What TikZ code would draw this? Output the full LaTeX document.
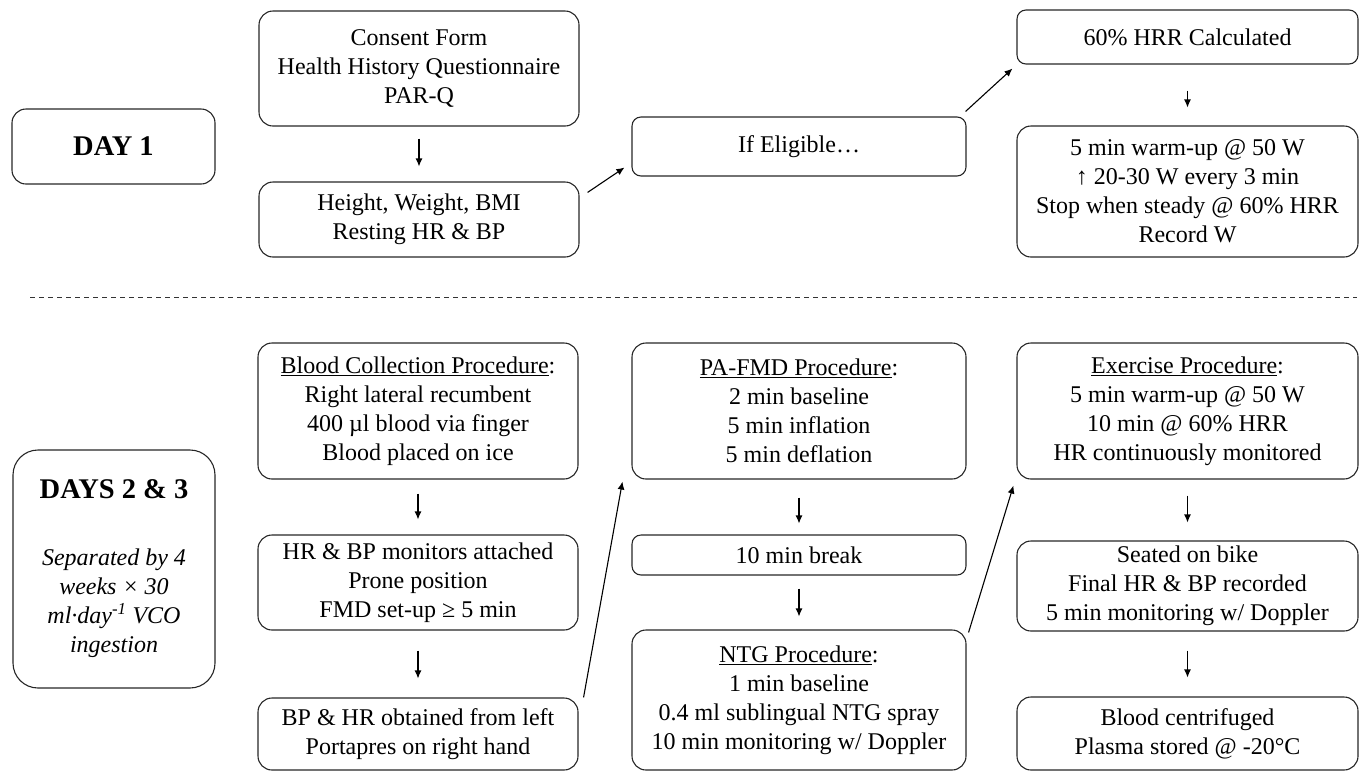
\documentclass[tikz,border=0pt]{standalone}
\usepackage{fontspec}
\setmainfont{Liberation Serif}
\usetikzlibrary{arrows.meta,calc}
\begin{document}
\begin{tikzpicture}[x=1pt,y=-1pt,
  box/.style={draw=black!85, line width=1.1pt, rounded corners=14pt, align=center,
    inner sep=0pt, font=\fontsize{24}{29}\selectfont},
  smallbox/.style={box, rounded corners=9pt},
  headbox/.style={box, font=\fontsize{28.5}{29}\selectfont\bfseries},
  arr/.style={line width=1.1pt, draw=black, -{Latex[length=8pt,width=7pt]}},
  sep/.style={line width=1pt, draw=black!80, dash pattern=on 5pt off 4pt},
]
\useasboundingbox (0,0) rectangle (1364,772);

% ---------- DAY 1 ----------
\node[headbox, minimum width=203pt, minimum height=75pt] (day1) at (113.5,146.5) {DAY 1};
\node[box, minimum width=320pt, minimum height=115pt] (consent) at (419,68.5)
  {Consent Form\\Health History Questionnaire\\PAR-Q};
\node[box, minimum width=320pt, minimum height=75pt] (height) at (419,219.5)
  {Height, Weight, BMI\\Resting HR \& BP};
\node[smallbox, minimum width=334pt, minimum height=59pt] (elig) at (799,146.5)
  {If Eligible…};
\node[smallbox, minimum width=341pt, minimum height=54pt] (hrr) at (1187.5,37)
  {60\% HRR Calculated};
\node[box, minimum width=341pt, minimum height=131pt] (warm) at (1187.5,191.5)
  {5 min warm-up @ 50 W\\↑ 20-30 W every 3 min\\Stop when steady @ 60\% HRR\\Record W};

\draw[arr, shorten <=12pt, shorten >=15pt] (consent) -- (height);
\draw[arr, shorten <=26pt, shorten >=18pt] (hrr) -- (warm);
\draw[arr] ($(height.north east)+(8,11)$) -- ($(elig.south west)+(-7,-9)$);
\draw[arr] ($(elig.north east)+(-1,-5)$) -- ($(hrr.south west)+(-4,4)$);

% ---------- separator ----------
\draw[sep] (30,297) -- (1357,297);

% ---------- DAYS 2 & 3 ----------
\node[box, rounded corners=25pt, minimum width=202pt, minimum height=238pt] (days) at (114,569)
  {{\fontsize{28.5}{29}\selectfont\bfseries DAYS 2 \& 3}\\[38pt]
   \itshape Separated by 4\\ \itshape weeks × 30\\ \itshape ml·day\textsuperscript{-1} VCO\\ \itshape ingestion};

\node[box, minimum width=320pt, minimum height=136pt] (blood) at (418,411)
  {\underline{Blood Collection Procedure}:\\Right lateral recumbent\\400 µl blood via finger\\Blood placed on ice};
\node[box, minimum width=320pt, minimum height=95pt] (monitors) at (418,582.5)
  {HR \& BP monitors attached\\Prone position\\FMD set-up ≥ 5 min};
\node[box, minimum width=320pt, minimum height=72pt] (bphr) at (418,734)
  {BP \& HR obtained from left\\Portapres on right hand};

\node[box, minimum width=334pt, minimum height=136pt] (pafmd) at (799,411)
  {\underline{PA-FMD Procedure}:\\2 min baseline\\5 min inflation\\5 min deflation};
\node[smallbox, minimum width=334pt, minimum height=40pt] (brk) at (799,555)
  {10 min break};
\node[box, minimum width=334pt, minimum height=140pt] (ntg) at (799,700)
  {\underline{NTG Procedure}:\\1 min baseline\\0.4 ml sublingual NTG spray\\10 min monitoring w/ Doppler};

\node[box, minimum width=341pt, minimum height=136pt] (exer) at (1187.5,411)
  {\underline{Exercise Procedure}:\\5 min warm-up @ 50 W\\10 min @ 60\% HRR\\HR continuously monitored};
\node[box, minimum width=341pt, minimum height=90pt] (seat) at (1187.5,586)
  {Seated on bike\\Final HR \& BP recorded\\5 min monitoring w/ Doppler};
\node[box, minimum width=341pt, minimum height=73pt] (cent) at (1187.5,733.5)
  {Blood centrifuged\\Plasma stored @ -20°C};

\draw[arr, shorten <=14pt, shorten >=15pt] (blood) -- (monitors);
\draw[arr, shorten <=20pt, shorten >=19pt] (monitors) -- (bphr);
\draw[arr, shorten <=18pt, shorten >=11pt] (pafmd) -- (brk);
\draw[arr, shorten <=13pt, shorten >=13pt] (brk) -- (ntg);
\draw[arr, shorten <=16pt, shorten >=18pt] (exer) -- (seat);
\draw[arr, shorten <=19pt, shorten >=19pt] (seat) -- (cent);
\draw[arr] ($(bphr.north east)+(5,0)$) -- ($(pafmd.south west)+(-9,2)$);
\draw[arr] ($(ntg.north east)+(2,3)$) -- ($(exer.south west)+(-3,6)$);
\end{tikzpicture}
\end{document}
